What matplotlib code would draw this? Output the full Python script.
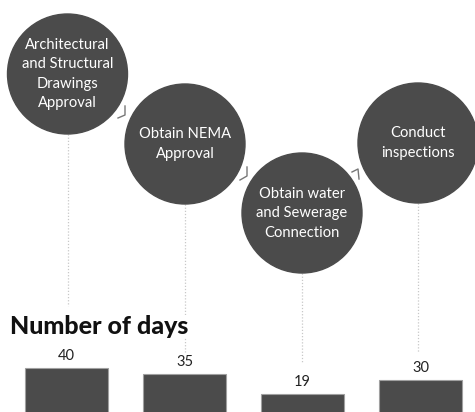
import matplotlib.pyplot as plt
from matplotlib.patches import Circle

plt.rcParams['font.family'] = ['Lato', 'DejaVu Sans']

steps = ['Architectural\nand Structural\nDrawings\nApproval',
         'Obtain NEMA\nApproval',
         'Obtain water\nand Sewerage\nConnection',
         'Conduct\ninspections']
days = [40, 35, 19, 30]

dark = '#4b4b4b'

fig = plt.figure(figsize=(4.75, 4.12), dpi=100)

# bars (baseline sits just below the bottom edge, as in the cropped original)
axb = fig.add_axes([0, 0, 1, 1])
pos = list(range(len(days)))
bars = axb.bar(pos, days, width=0.70, color=dark, edgecolor='#a0a0a0', linewidth=0.8)
axb.set_xlim(-0.5636, 3.4619)
axb.set_ylim(4.44, 337.2)
axb.axis('off')
for b, v in zip(bars, days):
    axb.annotate(str(v), (b.get_x() + b.get_width() / 2, v), xytext=(0, 3.5),
                 textcoords='offset points', ha='center', va='bottom',
                 fontsize=10.5, color='#222222')

# overlay in pixel coordinates for the process bubbles
ax = fig.add_axes([0, 0, 1, 1])
ax.set_xlim(0, 475)
ax.set_ylim(412, 0)
ax.axis('off')

cx = [67.5, 185, 302, 418]
cy = [74, 144, 213, 143]
r = 60
line_end = [306, 352, 362, 352]

for i in range(4):
    ax.plot([cx[i], cx[i]], [cy[i] + r, line_end[i]], color='#c8c8c8',
            lw=0.9, ls=(0, (1, 1.5)), zorder=1)
    ax.add_patch(Circle((cx[i], cy[i]), r, color=dark, zorder=2))
    ax.text(cx[i], cy[i], steps[i], ha='center', va='center', color='white',
            fontsize=10.6, linespacing=1.5, zorder=3)

# little connector ticks between bubbles
conn = [([125, 125, 118], [106, 115, 118]),
        ([247, 247, 240], [167, 176, 180]),
        ([352, 358, 359], [172, 169, 179])]
for xs, ys in conn:
    ax.plot(xs, ys, color='#777777', lw=1, zorder=1)

ax.text(10, 326, 'Number of days', ha='left', va='center', fontsize=18,
        fontweight='black', color='#111111', zorder=4,
        bbox=dict(facecolor='white', edgecolor='none', pad=0))

fig.savefig('out.png', dpi=100)
